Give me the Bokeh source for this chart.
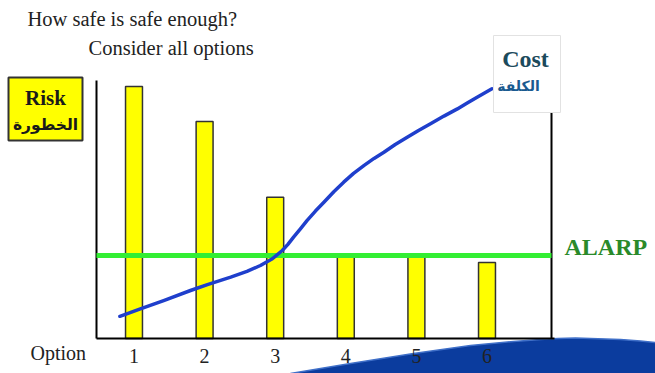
from bokeh.plotting import figure
from bokeh.models import Range1d, Label, BoxAnnotation, ColumnDataSource
from bokeh.core.properties import value
from bokeh.embed import file_html
from bokeh.resources import INLINE

# ---- data ----
options = [1, 2, 3, 4, 5, 6]
tick_labels = ["1", "2", "3", "4", "5", "6"]
risk = [97.7, 84.1, 54.7, 31.5, 31.5, 29.5]
alarp_level = 32.2
cost_x = [0.80, 1.09, 1.42, 1.80, 2.04, 2.37, 2.60, 2.79, 2.96, 3.10, 3.18, 3.26,
          3.36, 3.45, 3.57, 3.69, 3.83, 3.97, 4.11, 4.26, 4.40, 4.54, 4.70, 4.87,
          5.03, 5.20, 5.39, 5.58, 5.72, 5.86, 6.07]
cost_y = [8.6, 11.5, 14.7, 18.6, 20.9, 23.8, 26.0, 28.3, 30.9, 34.1, 36.5, 39.3,
          42.6, 45.7, 49.4, 52.8, 56.9, 60.6, 64.0, 67.1, 69.8, 72.2, 75.2, 78.0,
          80.6, 83.2, 86.2, 89.0, 91.3, 93.5, 96.8]

W, H = 655, 373
FL, FR, FT, FB = 96, 552, 80, 338  # plot-area edges in pixels
PX1, PXSTEP = 133.5, 70.6           # pixel of option 1, pixels per option
PYSTEP = (FB - FT) / 100.0


def dx(px):
    return (px - PX1) / PXSTEP + 1


def dy(py):
    return (FB - py) / PYSTEP


p = figure(width=W, height=H, output_backend="svg", toolbar_location=None,
           x_range=Range1d(dx(0), dx(W)), y_range=Range1d(dy(H), dy(0)),
           min_border=0, x_axis_location=None, y_axis_location=None)
p.outline_line_color = None
p.grid.visible = False
p.background_fill_color = "white"
p.border_fill_color = "white"

serif = "Liberation Serif"

# decorative wave
wave_px = [290, 350, 413, 470, 513, 540, 557, 575, 590, 620, 640, 655, 660, 660, 290]
wave_py = [373, 363, 353, 345, 341, 339, 338, 337.5, 338, 339, 340.5, 342, 342, 380, 380]
p.patch([dx(v) for v in wave_px], [dy(v) for v in wave_py], fill_color="#0b3c9e",
        line_color="#3f6fc8", line_width=1.5)

# bars
src = ColumnDataSource(dict(x=options, top=risk))
p.vbar(x="x", top="top", bottom=0, width=0.24, source=src,
       fill_color="#ffff00", line_color="#333333", line_width=1.5)

# axis lines (left, bottom, right)
x_left, x_right = dx(FL), dx(551)
p.segment(x0=[x_left, x_left, x_right], y0=[0, 0, 0],
          x1=[x_left, dx(554), x_right], y1=[100, 0, 100],
          line_color="black", line_width=2)

# ALARP line
p.segment(x0=[x_left], y0=[alarp_level], x1=[x_right], y1=[alarp_level],
          line_color="#33ee33", line_width=5)

# cost curve
p.line(cost_x, cost_y, line_color="#1f3fcc", line_width=3.5, line_cap="round",
       line_join="round")

# tick labels
p.text(x=options, y=[dy(355)] * len(options), text=tick_labels,
       text_font=value(serif), text_font_size="20px", text_color="#222222",
       text_align="center", text_baseline="middle")

# texts
p.add_layout(Label(x=dx(27), y=dy(18), text="How safe is safe enough?", text_font=serif,
                   text_font_size="20.5px", text_color="#222222", text_baseline="middle"))
p.add_layout(Label(x=dx(88), y=dy(47), text="Consider all options", text_font=serif,
                   text_font_size="20.5px", text_color="#222222", text_baseline="middle"))
p.add_layout(Label(x=dx(30), y=dy(352), text="Option", text_font=serif,
                   text_font_size="20px", text_color="#222222", text_baseline="middle"))

# Risk box
p.add_layout(BoxAnnotation(left=dx(8), right=dx(82), top=dy(77), bottom=dy(140),
                           fill_color="#ffff00", fill_alpha=1.0, line_color="#333333",
                           line_width=2, line_alpha=1.0))
p.add_layout(Label(x=dx(45), y=dy(97), text="Risk", text_font=serif, text_font_style="bold",
                   text_font_size="21px", text_color="#1a1a1a", text_align="center",
                   text_baseline="middle"))
p.add_layout(Label(x=dx(45), y=dy(124), text="الخطورة", text_font="DejaVu Sans",
                   text_font_style="bold", text_font_size="15.5px", text_color="#1a1a1a",
                   text_align="center", text_baseline="middle"))

# Cost box
p.add_layout(BoxAnnotation(left=dx(493), right=dx(560), top=dy(35), bottom=dy(112),
                           fill_color="white", fill_alpha=1.0, line_color="#e2e2e2",
                           line_width=1, line_alpha=1.0))
p.add_layout(Label(x=dx(525), y=dy(58), text="Cost", text_font=serif, text_font_style="bold",
                   text_font_size="24px", text_color="#1c4a5c", text_align="center",
                   text_baseline="middle"))
p.add_layout(Label(x=dx(518), y=dy(85), text="الكلفة", text_font="DejaVu Sans",
                   text_font_style="bold", text_font_size="14px", text_color="#1a5a90",
                   text_align="center", text_baseline="middle"))

# ALARP
p.add_layout(Label(x=dx(564), y=dy(246), text="ALARP", text_font=serif, text_font_style="bold",
                   text_font_size="24px", text_color="#2a8a2a", text_align="left",
                   text_baseline="middle"))

open("out.html", "w").write(file_html(p, INLINE))
